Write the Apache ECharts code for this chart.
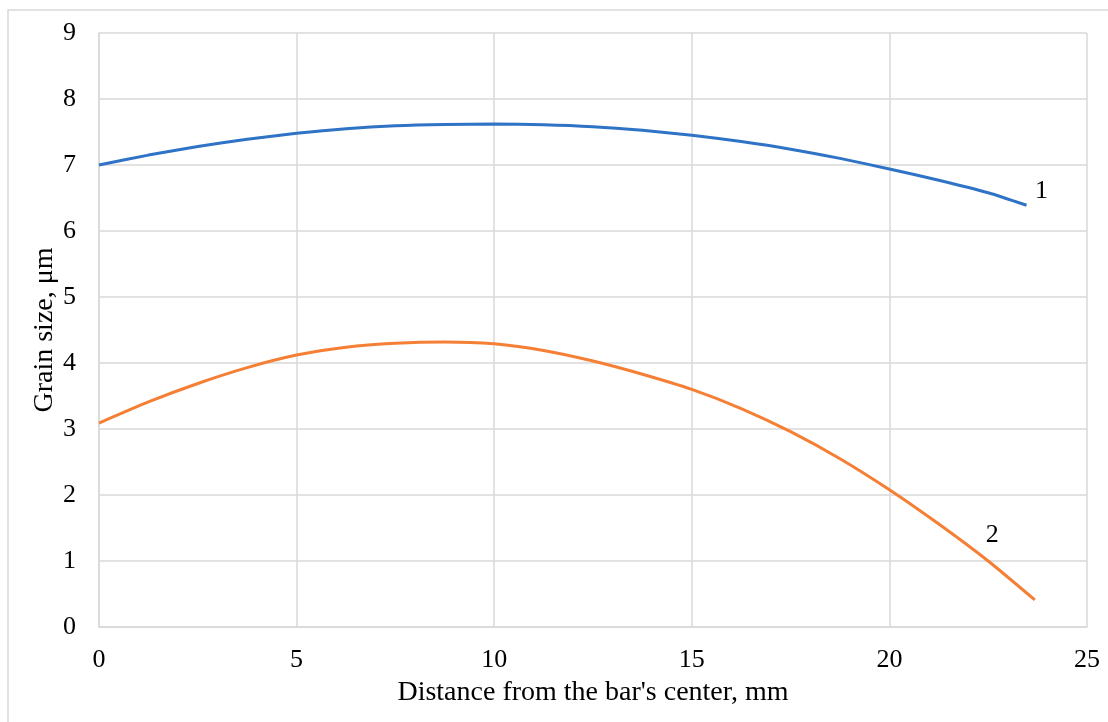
<!DOCTYPE html>
<html>
<head>
<meta charset="utf-8">
<script src="https://cdn.jsdelivr.net/npm/echarts@6/dist/echarts.min.js"></script>
<style>
html,body{margin:0;padding:0;background:#fff;}
#chart{width:1108px;height:722px;}
</style>
</head>
<body>
<div id="chart"></div>
<script>
// Data
const xTitle = "Distance from the bar's center, mm";
const yTitle = "Grain size, μm";
const curve1X = [0, 1.25, 2.5, 3.75, 5, 6.25, 7.5, 8.75, 10, 11.25, 12.5, 13.75, 15, 16.25, 17.5, 18.75, 20, 21.25, 22.5, 23.47];
const curve1Y = [7.0, 7.15, 7.28, 7.39, 7.48, 7.55, 7.595, 7.615, 7.62, 7.61, 7.58, 7.525, 7.45, 7.355, 7.24, 7.10, 6.94, 6.77, 6.58, 6.39];
const curve2X = [0, 1.25, 2.5, 3.75, 5, 6.25, 7.5, 8.75, 10, 11.25, 12.5, 13.75, 15, 16.25, 17.5, 18.75, 20, 21.25, 22.5, 23.68];
const curve2Y = [3.09, 3.41, 3.69, 3.93, 4.12, 4.24, 4.30, 4.32, 4.29, 4.19, 4.03, 3.83, 3.60, 3.31, 2.96, 2.55, 2.08, 1.56, 1.0, 0.41];
const label1 = {text: "1", x: 23.85, y: 6.6};
const label2 = {text: "2", x: 22.6, y: 1.39};

const pairs = (xs, ys) => xs.map((x, i) => [x, ys[i]]);
const font = "Liberation Serif";
const grey = "#d9d9d9";

const chart = echarts.init(document.getElementById('chart'), null, {renderer: 'canvas'});
chart.setOption({
  animation: false,
  backgroundColor: '#fff',
  graphic: [{
    type: 'rect', silent: true,
    shape: {x: 8, y: 10, width: 1200, height: 800},
    style: {fill: 'none', stroke: grey, lineWidth: 1.5}
  }],
  grid: {left: 99, top: 33, right: 21, bottom: 95, containLabel: false},
  xAxis: {
    type: 'value', min: 0, max: 25, interval: 5,
    name: xTitle, nameLocation: 'middle', nameGap: 52, nameMoveOverlap: false,
    nameTextStyle: {fontFamily: font, fontSize: 28, color: '#000'},
    axisLine: {show: true, lineStyle: {color: grey, width: 1.5}},
    axisTick: {show: false},
    axisLabel: {fontFamily: font, fontSize: 26, color: '#000', margin: 20},
    splitLine: {show: true, lineStyle: {color: grey, width: 1.5}}
  },
  yAxis: {
    type: 'value', min: 0, max: 9, interval: 1,
    name: yTitle, nameLocation: 'middle', nameGap: 40, nameMoveOverlap: false,
    nameTextStyle: {fontFamily: font, fontSize: 28, color: '#000'},
    axisLine: {show: true, lineStyle: {color: grey, width: 1.5}},
    axisTick: {show: false},
    axisLabel: {fontFamily: font, fontSize: 26, color: '#000', margin: 23},
    splitLine: {show: true, lineStyle: {color: grey, width: 1.5}}
  },
  series: [
    {
      type: 'line', data: pairs(curve1X, curve1Y), smooth: 0.2,
      showSymbol: false, symbol: 'none',
      lineStyle: {color: '#2f73c6', width: 3},
      markPoint: {
        symbol: 'circle', symbolSize: 1, itemStyle: {color: 'rgba(0,0,0,0)'},
        label: {show: true, position: 'inside', fontFamily: font, fontSize: 26, color: '#000', formatter: label1.text},
        data: [{coord: [label1.x, label1.y]}]
      }
    },
    {
      type: 'line', data: pairs(curve2X, curve2Y), smooth: 0.2,
      showSymbol: false, symbol: 'none',
      lineStyle: {color: '#f47f35', width: 3},
      markPoint: {
        symbol: 'circle', symbolSize: 1, itemStyle: {color: 'rgba(0,0,0,0)'},
        label: {show: true, position: 'inside', fontFamily: font, fontSize: 26, color: '#000', formatter: label2.text},
        data: [{coord: [label2.x, label2.y]}]
      }
    }
  ]
});
</script>
</body>
</html>
